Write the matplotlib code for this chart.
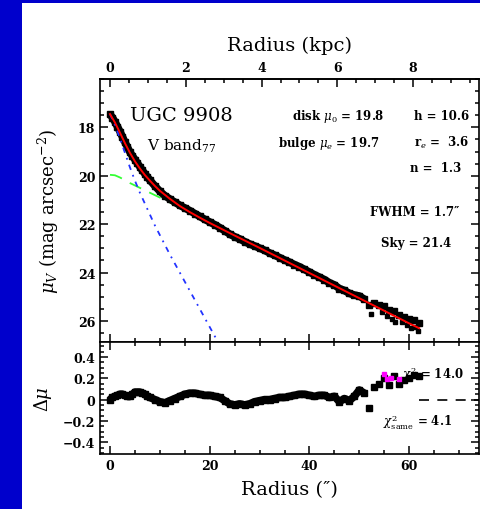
import matplotlib
matplotlib.use('Agg')
import matplotlib.pyplot as plt
from matplotlib.patches import Rectangle
from matplotlib.ticker import MultipleLocator, FixedLocator, FuncFormatter

plt.rcParams['font.family'] = ['DejaVu Serif']
plt.rcParams['mathtext.fontset'] = 'dejavuserif'

# surface brightness profile (arcsec, mag/arcsec^2)
r_data = [0, 0.5, 1, 1.5, 2, 2.5, 3, 3.5, 4, 4.5, 5, 5.5, 6, 6.5, 7, 7.5, 8,
          9, 10, 11, 12, 13, 14, 15, 16, 17, 18, 19, 20, 21, 22, 23, 24, 25,
          26, 27, 28, 29, 30, 31, 32, 33, 34, 35, 36, 37, 38, 39, 40, 41, 42,
          43, 44, 45, 46, 47, 48, 49, 50, 51, 52, 53, 54, 55, 56, 57, 58, 59,
          60, 61, 62]
mu_data = [17.45, 17.60, 17.77, 17.97, 18.17, 18.39, 18.61, 18.82, 19.02,
           19.18, 19.33, 19.48, 19.63, 19.78, 19.92, 20.05, 20.18,
           20.42, 20.64, 20.82, 20.96, 21.09, 21.22, 21.33, 21.44, 21.56,
           21.68, 21.80, 21.91, 22.02, 22.14, 22.27, 22.41, 22.52, 22.61,
           22.72, 22.82, 22.90, 22.99, 23.08, 23.19, 23.28, 23.38, 23.48,
           23.57, 23.67, 23.76, 23.87, 23.98, 24.09, 24.19, 24.29, 24.42,
           24.51, 24.66, 24.74, 24.86, 24.93, 24.97, 25.10, 25.35, 25.25,
           25.33, 25.38, 25.54, 25.57, 25.74, 25.82, 25.90, 25.97, 26.08]

# faint scattered points at the outer edge
r_scat = [52.4, 54.5, 55.5, 56.5, 57.2, 58.5, 59.5, 60.3, 61.2, 61.8]
mu_scat = [25.70, 25.65, 25.80, 25.90, 26.05, 26.05, 26.15, 26.30, 26.25, 26.40]

# model: total (red), disk (green), bulge (blue)
r_tot = [0, 1, 2, 3, 4, 5, 6, 7, 8, 9, 10, 12, 14, 16, 18, 20, 25, 30, 35,
         40, 45, 50, 55, 60, 62]
mu_tot = [17.45, 17.80, 18.22, 18.65, 19.05, 19.40, 19.70, 19.97, 20.20,
          20.42, 20.62, 20.95, 21.25, 21.50, 21.73, 21.95, 22.47, 22.98,
          23.50, 24.02, 24.54, 25.06, 25.58, 26.10, 26.30]
r_disk = [0, 1, 2, 3, 4, 6, 8, 10, 14, 20, 30, 40, 50, 60, 62]
mu_disk = [19.96, 19.98, 20.07, 20.18, 20.30, 20.50, 20.70, 20.90, 21.30,
           21.93, 22.97, 24.01, 25.05, 26.09, 26.30]
r_bulge = [0, 1, 2, 3, 4, 5, 6, 7, 8, 9, 10, 12, 14, 16, 18, 20, 22]
mu_bulge = [17.45, 17.90, 18.45, 19.05, 19.65, 20.20, 20.70, 21.15, 21.60,
            22.05, 22.45, 23.25, 24.00, 24.75, 25.50, 26.25, 27.00]

# residuals
d_mu = [0.00, 0.02, 0.03, 0.04, 0.05, 0.05, 0.04, 0.03, 0.03, 0.05, 0.07,
        0.07, 0.07, 0.06, 0.05, 0.03, 0.02,
        0.00, -0.02, -0.03, -0.01, 0.01, 0.03, 0.05, 0.06, 0.06, 0.05, 0.04,
        0.04, 0.03, 0.02, -0.01, -0.04, -0.05, -0.04, -0.05, -0.04, -0.02,
        -0.01, 0.00, 0.00, 0.01, 0.02, 0.02, 0.03, 0.04, 0.05, 0.05, 0.04,
        0.03, 0.04, 0.04, 0.02, 0.03, -0.02, 0.01, -0.01, 0.03, 0.09, 0.06,
        -0.08, 0.12, 0.15, 0.20, 0.14, 0.22, 0.15, 0.18, 0.20, 0.23, 0.22]
r_mag = [55.0, 55.6, 56.3, 57.9]
d_mag = [0.24, 0.19, 0.20, 0.19]

arcsec_per_kpc = 7.6
n_smooth = 60  # points up to r = 51'' form a continuous band

fig = plt.figure(figsize=(4.81, 5.10), dpi=100, facecolor='#0000cc')
fig.add_artist(Rectangle((22 / 481, 0), 1, 1 - 4 / 510, transform=fig.transFigure,
                         facecolor='white', edgecolor='none', zorder=0))

ax = fig.add_axes([100 / 481, 1 - 343 / 510, 379 / 481, 263 / 510])
axr = fig.add_axes([100 / 481, 1 - 455 / 510, 379 / 481, 112 / 510], sharex=ax)

ax.plot(r_disk, mu_disk, color='#33ff33', lw=1.3, ls=(0, (7, 5)), zorder=2)
ax.plot(r_data[:n_smooth], mu_data[:n_smooth], '-', color='black', lw=5.5,
        zorder=3, solid_capstyle='butt')
ax.plot(r_data, mu_data, 's', color='black', ms=5, zorder=3)
ax.plot(r_scat, mu_scat, 's', color='black', ms=2.2, zorder=3)
ax.plot(r_bulge, mu_bulge, color='#2233ff', lw=1.3, ls=(0, (3, 3, 1, 3)), zorder=4)
ax.plot(r_tot, mu_tot, color='red', lw=1.4, zorder=5)

ax.set_xlim(-2, 74)
ax.set_ylim(26.87, 16.0)

for a in (ax, axr):
    for s in a.spines.values():
        s.set_linewidth(1.2)
    a.tick_params(which='both', direction='in', width=1.1, right=True,
                  labelsize=9)
    a.tick_params(which='major', length=6)
    a.tick_params(which='minor', length=3)
    a.xaxis.set_major_locator(MultipleLocator(20))
    a.xaxis.set_minor_locator(MultipleLocator(5))

ax.tick_params(which='both', top=False, labelbottom=False)
axr.tick_params(which='both', top=True)
ax.yaxis.set_major_locator(FixedLocator([18, 20, 22, 24, 26]))
ax.yaxis.set_minor_locator(MultipleLocator(0.5))
for lab in ax.get_yticklabels():
    lab.set_fontweight('bold')

sec = ax.secondary_xaxis('top', functions=(lambda x: x / arcsec_per_kpc,
                                           lambda k: k * arcsec_per_kpc))
sec.xaxis.set_major_locator(FixedLocator([0, 2, 4, 6, 8]))
sec.xaxis.set_minor_locator(MultipleLocator(0.5))
sec.tick_params(which='both', direction='in', width=1.1, labelsize=9)
sec.tick_params(which='major', length=6)
sec.tick_params(which='minor', length=3)
sec.spines['top'].set_linewidth(1.2)
for lab in sec.get_xticklabels():
    lab.set_fontweight('bold')
sec.set_xlabel('Radius (kpc)', fontsize=14, labelpad=8)

ax.set_ylabel(r'$\mu_V$ (mag arcsec$^{-2}$)', fontsize=13, labelpad=12)

ax.text(0.079, 0.863, 'UGC 9908', transform=ax.transAxes, fontsize=14,
        va='center', ha='left')
ax.text(0.124, 0.749, r'V band$_{77}$', transform=ax.transAxes, fontsize=11,
        va='center', ha='left')
kw = dict(transform=ax.transAxes, fontsize=8.5, fontweight='bold',
          va='center', ha='right')
ax.text(0.75, 0.863, r'disk $\mu_0$ = 19.8', **kw)
ax.text(0.974, 0.863, 'h = 10.6', **kw)
ax.text(0.737, 0.760, r'bulge $\mu_e$ = 19.7', **kw)
ax.text(0.974, 0.760, r'r$_e$ =  3.6', **kw)
ax.text(0.953, 0.662, 'n =  1.3', **kw)
ax.text(0.947, 0.498, "FWHM = 1.7\u2033", **kw)
ax.text(0.926, 0.380, 'Sky = 21.4', **kw)

# residual panel
axr.hlines(0, r_data[-1], 74, colors='black', linestyles=(0, (6, 5)), lw=1.2,
           zorder=2)
axr.plot(r_data[:n_smooth], d_mu[:n_smooth], '-', color='black', lw=5.5,
         zorder=3, solid_capstyle='butt')
axr.plot(r_data, d_mu, 's', color='black', ms=5, zorder=3)
axr.plot(r_mag, d_mag, 's', color='#ff00ff', ms=2.5, zorder=4)
axr.set_ylim(-0.51, 0.54)
axr.yaxis.set_major_locator(MultipleLocator(0.2))
axr.yaxis.set_minor_locator(MultipleLocator(0.05))
axr.yaxis.set_major_formatter(FuncFormatter(
    lambda v, p: '0' if abs(v) < 1e-9 else f'{v:.1f}'.replace('-', '\u2212')))
for lab in axr.get_yticklabels() + axr.get_xticklabels():
    lab.set_fontweight('bold')
axr.set_ylabel(r'$\Delta\mu$', fontsize=13, labelpad=6)
axr.set_xlabel('Radius (\u2033)', fontsize=14, labelpad=6)

kr = dict(transform=axr.transAxes, fontsize=8.5, fontweight='bold',
          va='center', ha='right', zorder=5)
axr.text(0.96, 0.714, r'$\chi^2$ = 14.0', **kr)
axr.text(0.929, 0.295, r'$\chi^2_{\rm same}$ = 4.1', **kr)

fig.savefig('out.png', dpi=100, facecolor=fig.get_facecolor())
